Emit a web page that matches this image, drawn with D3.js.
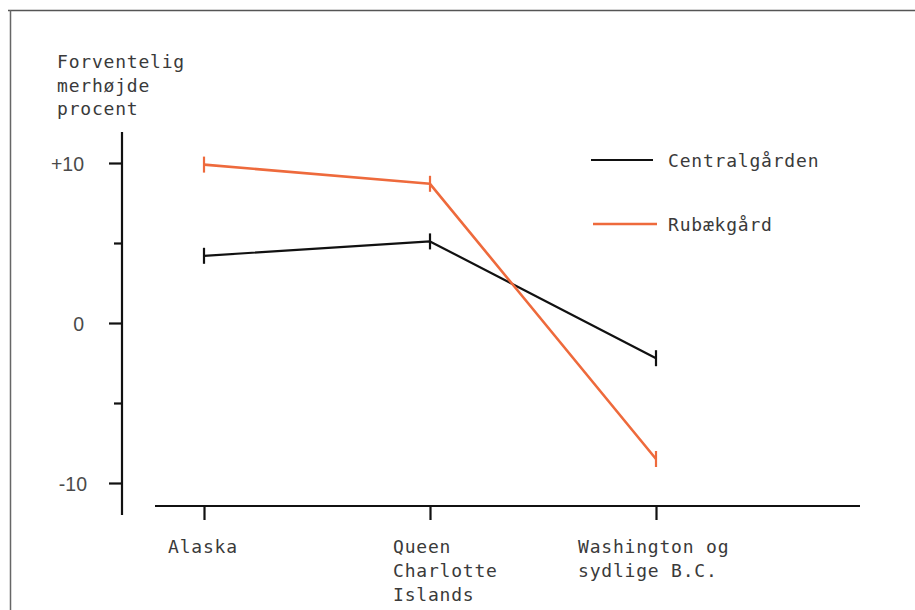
<!DOCTYPE html>
<html><head><meta charset="utf-8">
<script src="https://cdn.jsdelivr.net/npm/d3@7"></script>
<style>body{margin:0;background:#fff}svg{display:block}</style>
</head><body><svg id="c" width="915" height="610"></svg>
<script>
const categories = [["Alaska"], ["Queen", "Charlotte", "Islands"], ["Washington og", "sydlige B.C."]];
const seriesNames = ["Centralgården", "Rubækgård"];
const centralgarden = [4.2, 5.1, -2.2];
const rubaekgard = [9.9, 8.7, -8.5];
const majorTicks = [10, 0, -10];
const minorTicks = [5, -5];
const tickLabels = ["+10", "0", "-10"];
const yTitle = ["Forventelig", "merhøjde", "procent"];

const svg = d3.select("#c");
const mono = "'DejaVu Sans Mono', monospace";
const txt = "#3a3a3a";
const colors = ["#111", "#ee6a3c"];
const monoSize = "18px", monoSpacing = "0.8px";

// frame
svg.append("line").attr("x1", 8).attr("x2", 915).attr("y1", 10.5).attr("y2", 10.5).attr("stroke", "#555").attr("stroke-width", 1.5);
svg.append("line").attr("x1", 10.5).attr("x2", 10.5).attr("y1", 10).attr("y2", 610).attr("stroke", "#666").attr("stroke-width", 1.5);

const y = d3.scaleLinear().domain([-10, 10]).range([483, 163]);
const x = d3.scalePoint().domain(categories.map((d, i) => i)).range([204, 656]);

// y axis
const yAxisX = 122;
svg.append("line").attr("x1", yAxisX).attr("x2", yAxisX).attr("y1", 132).attr("y2", 515).attr("stroke", "#111").attr("stroke-width", 2.2);
const gy = svg.append("g").attr("transform", `translate(${yAxisX},0)`);
gy.call(d3.axisLeft(y).tickValues(majorTicks).tickSize(13).tickFormat((d, i) => tickLabels[i]));
gy.select(".domain").remove();
gy.selectAll(".tick line").attr("stroke", "#111").attr("stroke-width", 2.2);
gy.selectAll(".tick text").attr("x", d => d < 0 ? -35 : -38).attr("dy", "0.36em").attr("fill", "#4a4a4a")
  .style("font-family", "'Liberation Sans', Arial, sans-serif").style("font-size", "19.5px");
const gy2 = svg.append("g").attr("transform", `translate(${yAxisX},0)`);
gy2.call(d3.axisLeft(y).tickValues(minorTicks).tickSize(8).tickFormat(""));
gy2.select(".domain").remove();
gy2.selectAll(".tick line").attr("stroke", "#111").attr("stroke-width", 2.2);

// x axis
svg.append("line").attr("x1", 155).attr("x2", 860).attr("y1", 506).attr("y2", 506).attr("stroke", "#111").attr("stroke-width", 2.2);
const gx = svg.append("g").attr("transform", "translate(0,506)");
gx.call(d3.axisBottom(x).tickSize(14).tickFormat(""));
gx.select(".domain").remove();
gx.selectAll(".tick line").attr("stroke", "#111").attr("stroke-width", 2.2);

const labelX = [168, 393, 578];
categories.forEach((lines, i) => {
  const t = svg.append("text").attr("fill", txt).style("font-family", mono).style("font-size", monoSize).style("letter-spacing", monoSpacing);
  lines.forEach((l, j) => t.append("tspan").attr("x", labelX[i]).attr("y", 553 + j * 24).text(l));
});

// y title
const tt = svg.append("text").attr("fill", txt).style("font-family", mono).style("font-size", monoSize).style("letter-spacing", monoSpacing);
yTitle.forEach((l, j) => tt.append("tspan").attr("x", 57).attr("y", 68 + j * 23.5).text(l));

// series
const series = [centralgarden, rubaekgard];
const line = d3.line().x((d, i) => x(i)).y(d => y(d));
series.forEach((vals, s) => {
  svg.append("path").datum(vals).attr("d", line).attr("fill", "none")
    .attr("stroke", colors[s]).attr("stroke-width", s === 0 ? 2.2 : 2.6).attr("stroke-linejoin", "round");
  svg.selectAll(null).data(vals).enter().append("line")
    .attr("x1", (d, i) => x(i)).attr("x2", (d, i) => x(i))
    .attr("y1", d => y(d) - 8).attr("y2", d => y(d) + 8)
    .attr("stroke", colors[s]).attr("stroke-width", 2.2);
});

// legend
const legY = [160, 224];
const legX1 = [591, 593], legX2 = [653, 657];
seriesNames.forEach((n, s) => {
  svg.append("line").attr("x1", legX1[s]).attr("x2", legX2[s]).attr("y1", legY[s]).attr("y2", legY[s])
    .attr("stroke", colors[s]).attr("stroke-width", s === 0 ? 2.2 : 2.6);
  svg.append("text").attr("x", 668).attr("y", legY[s] + 7).attr("fill", txt)
    .style("font-family", mono).style("font-size", monoSize).style("letter-spacing", monoSpacing).text(n);
});
</script></body></html>
